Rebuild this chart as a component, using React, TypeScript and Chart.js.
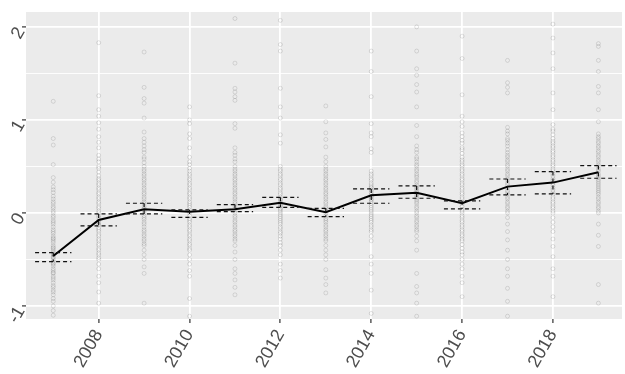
import React, { useEffect, useRef } from "react";
import { Chart, registerables } from "chart.js";

Chart.register(...registerables);

const years = [2007, 2008, 2009, 2010, 2011, 2012, 2013, 2014, 2015, 2016, 2017, 2018, 2019];
const meanValues = [-0.462, -0.075, 0.04, 0.014, 0.04, 0.11, 0.007, 0.19, 0.218, 0.104, 0.283, 0.326, 0.437];
const upperValues = [-0.426, -0.01, 0.104, 0.032, 0.09, 0.168, 0.05, 0.258, 0.29, 0.13, 0.365, 0.445, 0.509];
const lowerValues = [-0.523, -0.14, -0.01, -0.047, 0.014, 0.06, -0.04, 0.104, 0.158, 0.043, 0.194, 0.204, 0.373];

const obs2007 = [1.2, 0.8, 0.73, 0.52, 0.38, 0.33, 0.28, 0.25, 0.22, 0.18, 0.15, 0.12, 0.1, 0.07, 0.05, 0.02, 0.0, -0.03, -0.05, -0.08, -0.1, -0.12, -0.15, -0.18, -0.2, -0.22, -0.25, -0.27, -0.28, -0.3, -0.32, -0.35, -0.37, -0.38, -0.4, -0.42, -0.44, -0.45, -0.47, -0.48, -0.5, -0.52, -0.54, -0.55, -0.57, -0.6, -0.62, -0.64, -0.65, -0.68, -0.7, -0.72, -0.75, -0.78, -0.8, -0.83, -0.85, -0.88, -0.92, -0.95, -1.0, -1.05, -1.1];
const obs2008 = [1.83, 1.26, 1.11, 1.04, 0.97, 0.9, 0.82, 0.76, 0.7, 0.62, 0.58, 0.55, 0.5, 0.48, 0.44, 0.4, 0.37, 0.35, 0.32, 0.3, 0.27, 0.25, 0.22, 0.2, 0.17, 0.15, 0.12, 0.1, 0.07, 0.05, 0.02, 0.0, -0.03, -0.05, -0.08, -0.1, -0.12, -0.13, -0.16, -0.18, -0.2, -0.23, -0.25, -0.28, -0.3, -0.33, -0.35, -0.38, -0.4, -0.43, -0.45, -0.48, -0.5, -0.55, -0.6, -0.68, -0.75, -0.85, -0.97];
const obs2009 = [1.73, 1.35, 1.23, 1.18, 1.02, 0.87, 0.8, 0.76, 0.72, 0.68, 0.65, 0.6, 0.58, 0.54, 0.5, 0.47, 0.45, 0.42, 0.4, 0.37, 0.35, 0.32, 0.3, 0.27, 0.25, 0.22, 0.2, 0.17, 0.15, 0.12, 0.1, 0.07, 0.05, 0.02, 0.0, -0.03, -0.05, -0.07, -0.1, -0.12, -0.15, -0.18, -0.2, -0.23, -0.25, -0.28, -0.3, -0.33, -0.35, -0.4, -0.45, -0.5, -0.58, -0.65, -0.97];
const obs2010 = [1.14, 1.0, 0.96, 0.85, 0.8, 0.7, 0.6, 0.55, 0.52, 0.48, 0.45, 0.42, 0.4, 0.37, 0.35, 0.32, 0.3, 0.27, 0.25, 0.22, 0.2, 0.17, 0.15, 0.12, 0.1, 0.08, 0.06, 0.03, 0.0, -0.03, -0.06, -0.08, -0.1, -0.13, -0.15, -0.18, -0.2, -0.23, -0.25, -0.28, -0.3, -0.33, -0.35, -0.38, -0.4, -0.45, -0.5, -0.55, -0.62, -0.68, -0.92, -1.11];
const obs2011 = [2.09, 1.61, 1.34, 1.3, 1.25, 1.21, 0.96, 0.91, 0.7, 0.65, 0.62, 0.58, 0.55, 0.5, 0.47, 0.45, 0.42, 0.4, 0.37, 0.35, 0.32, 0.3, 0.27, 0.25, 0.22, 0.2, 0.17, 0.15, 0.12, 0.1, 0.07, 0.05, 0.02, 0.0, -0.03, -0.05, -0.08, -0.1, -0.13, -0.15, -0.18, -0.2, -0.23, -0.25, -0.28, -0.3, -0.35, -0.42, -0.5, -0.6, -0.65, -0.72, -0.8, -0.88];
const obs2012 = [2.07, 1.81, 1.74, 1.34, 1.14, 1.02, 0.84, 0.75, 0.5, 0.47, 0.45, 0.42, 0.4, 0.37, 0.35, 0.32, 0.3, 0.27, 0.25, 0.22, 0.2, 0.17, 0.15, 0.14, 0.12, 0.1, 0.08, 0.07, 0.05, 0.04, 0.02, 0.0, -0.02, -0.04, -0.06, -0.08, -0.1, -0.12, -0.15, -0.17, -0.2, -0.22, -0.25, -0.28, -0.32, -0.35, -0.4, -0.45, -0.55, -0.62, -0.7];
const obs2013 = [1.15, 0.98, 0.86, 0.79, 0.71, 0.6, 0.55, 0.5, 0.47, 0.45, 0.42, 0.4, 0.37, 0.35, 0.32, 0.3, 0.27, 0.25, 0.22, 0.2, 0.17, 0.15, 0.12, 0.1, 0.07, 0.05, 0.02, 0.0, -0.03, -0.06, -0.08, -0.1, -0.13, -0.15, -0.18, -0.2, -0.23, -0.25, -0.28, -0.3, -0.35, -0.4, -0.45, -0.5, -0.61, -0.7, -0.77, -0.86];
const obs2014 = [1.74, 1.52, 1.25, 0.96, 0.86, 0.82, 0.69, 0.65, 0.45, 0.42, 0.4, 0.37, 0.35, 0.32, 0.3, 0.28, 0.27, 0.25, 0.24, 0.22, 0.2, 0.18, 0.17, 0.15, 0.14, 0.12, 0.1, 0.08, 0.06, 0.04, 0.02, 0.0, -0.02, -0.04, -0.06, -0.08, -0.1, -0.13, -0.15, -0.18, -0.2, -0.25, -0.3, -0.47, -0.55, -0.65, -0.83, -1.08];
const obs2015 = [2.0, 1.74, 1.55, 1.48, 1.38, 1.3, 1.14, 0.94, 0.82, 0.72, 0.68, 0.65, 0.6, 0.58, 0.55, 0.52, 0.5, 0.47, 0.45, 0.42, 0.4, 0.38, 0.35, 0.33, 0.3, 0.28, 0.26, 0.24, 0.22, 0.2, 0.18, 0.16, 0.14, 0.12, 0.1, 0.07, 0.05, 0.02, 0.0, -0.03, -0.05, -0.08, -0.1, -0.13, -0.15, -0.18, -0.2, -0.25, -0.3, -0.4, -0.65, -0.79, -0.86, -0.97, -1.11];
const obs2016 = [1.9, 1.66, 1.27, 1.04, 0.98, 0.93, 0.86, 0.82, 0.78, 0.75, 0.7, 0.68, 0.64, 0.6, 0.57, 0.55, 0.52, 0.5, 0.47, 0.45, 0.42, 0.4, 0.37, 0.35, 0.32, 0.3, 0.27, 0.25, 0.22, 0.2, 0.17, 0.15, 0.12, 0.1, 0.07, 0.04, 0.02, 0.0, -0.03, -0.05, -0.08, -0.1, -0.13, -0.15, -0.18, -0.2, -0.23, -0.25, -0.28, -0.3, -0.34, -0.38, -0.42, -0.45, -0.5, -0.55, -0.6, -0.68, -0.75, -0.9];
const obs2017 = [1.64, 1.4, 1.35, 1.29, 0.92, 0.88, 0.85, 0.8, 0.78, 0.75, 0.72, 0.68, 0.65, 0.62, 0.6, 0.57, 0.55, 0.52, 0.5, 0.47, 0.45, 0.42, 0.4, 0.37, 0.35, 0.32, 0.3, 0.27, 0.24, 0.22, 0.2, 0.17, 0.15, 0.12, 0.1, 0.07, 0.05, 0.02, 0.0, -0.05, -0.12, -0.2, -0.29, -0.4, -0.5, -0.6, -0.68, -0.81, -0.95, -1.11];
const obs2018 = [2.03, 1.88, 1.72, 1.55, 1.29, 1.11, 0.95, 0.9, 0.88, 0.84, 0.8, 0.77, 0.75, 0.72, 0.7, 0.67, 0.65, 0.62, 0.6, 0.57, 0.55, 0.52, 0.5, 0.47, 0.45, 0.42, 0.4, 0.37, 0.35, 0.32, 0.3, 0.27, 0.25, 0.22, 0.2, 0.17, 0.15, 0.12, 0.1, 0.07, 0.05, 0.02, 0.0, -0.05, -0.1, -0.15, -0.2, -0.28, -0.36, -0.47, -0.6, -0.68, -0.9];
const obs2019 = [1.82, 1.79, 1.64, 1.52, 1.36, 1.29, 1.11, 0.98, 0.85, 0.82, 0.8, 0.77, 0.75, 0.72, 0.7, 0.67, 0.65, 0.62, 0.6, 0.57, 0.55, 0.52, 0.5, 0.47, 0.45, 0.42, 0.4, 0.38, 0.36, 0.34, 0.32, 0.3, 0.28, 0.26, 0.24, 0.22, 0.2, 0.17, 0.15, 0.12, 0.1, 0.07, 0.05, 0.02, 0.0, -0.12, -0.24, -0.36, -0.77, -0.97];

const observations = [obs2007, obs2008, obs2009, obs2010, obs2011, obs2012, obs2013, obs2014, obs2015, obs2016, obs2017, obs2018, obs2019];

const xTicks = [2008, 2010, 2012, 2014, 2016, 2018];
const yTicks = [-1, -0.5, 0, 0.5, 1, 1.5, 2];
const yLabelTicks = [-1, 0, 1, 2];

const X_MIN = 2006.4;
const X_MAX = 2019.52;
const Y_MIN = -1.14;
const Y_MAX = 2.16;
const ERR_HALF_WIDTH = 0.4;

const FONT = "'Liberation Sans', Arial, sans-serif";

const panelBackground = {
  id: "panelBackground",
  beforeDraw(chart: any) {
    const { ctx, chartArea } = chart;
    ctx.save();
    ctx.fillStyle = "#EBEBEB";
    ctx.fillRect(chartArea.left, chartArea.top, chartArea.right - chartArea.left, chartArea.bottom - chartArea.top);
    ctx.restore();
  },
};

const errorBars = {
  id: "errorBars",
  afterDatasetsDraw(chart: any) {
    const { ctx, chartArea, scales } = chart;
    const xs = scales.x;
    const ys = scales.y;
    ctx.save();
    ctx.beginPath();
    ctx.rect(chartArea.left, chartArea.top, chartArea.right - chartArea.left, chartArea.bottom - chartArea.top);
    ctx.clip();
    ctx.strokeStyle = "#111111";
    ctx.lineWidth = 1.2;
    ctx.setLineDash([4, 3]);
    years.forEach((yr, i) => {
      const xl = xs.getPixelForValue(yr - ERR_HALF_WIDTH);
      const xr = xs.getPixelForValue(yr + ERR_HALF_WIDTH);
      const xc = xs.getPixelForValue(yr);
      const yu = ys.getPixelForValue(upperValues[i]);
      const yl = ys.getPixelForValue(lowerValues[i]);
      ctx.beginPath();
      ctx.moveTo(xl, yu);
      ctx.lineTo(xr, yu);
      ctx.moveTo(xc, yu);
      ctx.lineTo(xc, yl);
      ctx.moveTo(xl, yl);
      ctx.lineTo(xr, yl);
      ctx.stroke();
    });
    ctx.restore();
  },
};

export default function App() {
  const canvasRef = useRef<HTMLCanvasElement | null>(null);

  useEffect(() => {
    document.body.style.margin = "0";
    const canvas = canvasRef.current;
    if (!canvas) return;

    const pointData: { x: number; y: number }[] = [];
    years.forEach((yr, i) => {
      observations[i].forEach((v) => pointData.push({ x: yr, y: v }));
    });
    const meanData = years.map((yr, i) => ({ x: yr, y: meanValues[i] }));

    const zeroPad = (scale: any) => {
      scale.paddingLeft = 0;
      scale.paddingRight = 0;
      scale.paddingTop = 0;
      scale.paddingBottom = 0;
    };

    const chart = new Chart(canvas, {
      type: "scatter",
      data: {
        datasets: [
          {
            type: "scatter",
            data: pointData,
            pointStyle: "circle",
            pointRadius: 2,
            pointBorderWidth: 1,
            pointBackgroundColor: "rgba(0,0,0,0)",
            pointBorderColor: "rgba(0,0,0,0.11)",
            pointHoverRadius: 2,
          } as any,
          {
            type: "line",
            data: meanData,
            borderColor: "#000000",
            borderWidth: 2,
            pointRadius: 0,
            pointHoverRadius: 0,
            fill: false,
            tension: 0,
          } as any,
        ],
      },
      options: {
        animation: false,
        responsive: false,
        maintainAspectRatio: false,
        events: [],
        layout: { padding: { top: 12, right: 0, left: 0, bottom: 0 } },
        plugins: {
          legend: { display: false },
          tooltip: { enabled: false },
          title: { display: false },
        },
        scales: {
          x: {
            type: "linear",
            min: X_MIN,
            max: X_MAX,
            afterBuildTicks: (scale: any) => {
              scale.ticks = xTicks.map((v) => ({ value: v }));
            },
            afterFit: (scale: any) => {
              scale.height = 55;
              zeroPad(scale);
            },
            border: { display: false },
            grid: {
              color: "#FFFFFF",
              lineWidth: 1.8,
              drawTicks: true,
              tickLength: 4,
              tickColor: "#333333",
              tickWidth: 1.2,
            },
            ticks: {
              autoSkip: false,
              minRotation: 60,
              maxRotation: 60,
              padding: 3,
              color: "#4D4D4D",
              font: { family: FONT, size: 18 },
              callback: (v: any) => String(v),
            },
          },
          y: {
            type: "linear",
            min: Y_MIN,
            max: Y_MAX,
            afterBuildTicks: (scale: any) => {
              scale.ticks = yTicks.map((v) => ({ value: v }));
            },
            afterFit: (scale: any) => {
              scale.width = 26;
              zeroPad(scale);
            },
            border: { display: false },
            grid: {
              color: "#FFFFFF",
              lineWidth: (ctx: any) => (yLabelTicks.includes(ctx.tick?.value) ? 1.8 : 0.9),
              drawTicks: true,
              tickLength: 4,
              tickColor: (ctx: any) => (yLabelTicks.includes(ctx.tick?.value) ? "#333333" : "rgba(0,0,0,0)"),
              tickWidth: 1.2,
            },
            ticks: {
              autoSkip: false,
              minRotation: 60,
              maxRotation: 60,
              padding: 1,
              labelOffset: 2,
              color: "#4D4D4D",
              font: { family: FONT, size: 18 },
              callback: (v: any) => (yLabelTicks.includes(v) ? String(v) : ""),
            },
          },
        },
      },
      plugins: [panelBackground, errorBars],
    } as any);

    return () => {
      chart.destroy();
    };
  }, []);

  return (
    <div style={{ width: 625, height: 374 }}>
      <canvas ref={canvasRef} width={625} height={374} style={{ display: "block", width: 625, height: 374 }} />
    </div>
  );
}
